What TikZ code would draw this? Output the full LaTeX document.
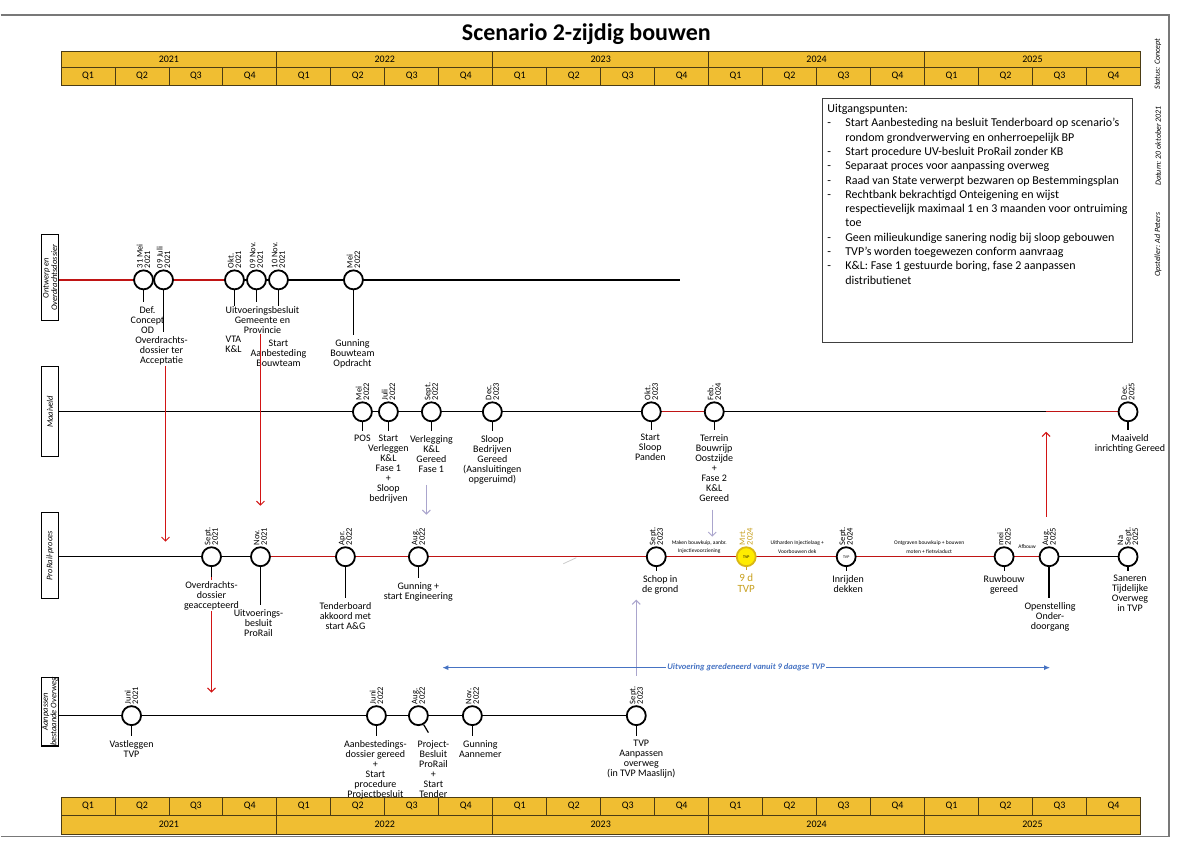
\documentclass[tikz,border=0pt]{standalone}
\usepackage{fontspec}
\setmainfont{Carlito}
\usetikzlibrary{positioning,arrows.meta,backgrounds}

\definecolor{barfill}{RGB}{240,190,50}
\definecolor{barline}{RGB}{75,60,20}
\definecolor{lanered}{RGB}{192,20,20}
\definecolor{arrowred}{RGB}{210,20,20}
\definecolor{lilac}{RGB}{170,165,205}
\definecolor{tvpblue}{RGB}{70,115,195}
\definecolor{tvpgold}{RGB}{200,160,30}
\definecolor{tvpyellow}{RGB}{255,236,0}
\definecolor{framegray}{RGB}{120,120,120}

\begin{document}
\begin{tikzpicture}[x=1pt,y=-1pt,
  bar/.style={draw=barline,fill=barfill,line width=0.8pt,inner sep=0pt,anchor=north west,font=\fontsize{10}{10}\selectfont},
  lanebox/.style={draw,line width=1.2pt,rotate=90,inner sep=0pt,minimum height=17pt,align=center,font=\itshape\fontsize{8.5}{8.5}\selectfont},
  ms/.style={circle,draw,line width=1.8pt,fill=white,minimum size=19pt,inner sep=0pt},
  tvp/.style={ms,font=\fontsize{4}{4}\selectfont},
  datum/.style={rotate=90,anchor=west,align=left,inner sep=1pt,font=\fontsize{8.5}{7.5}\selectfont},
  desc/.style={anchor=north,align=center,inner sep=1pt,font=\fontsize{10}{10}\selectfont},
  cover/.style={fill=white},
  phase/.style={align=center,inner sep=0pt,font=\fontsize{5.5}{8.5}\selectfont},
  lane/.style={line width=1.4pt},
  redlane/.style={draw=lanered,line width=1.4pt},
  stick/.style={line width=1.2pt,shorten >=3pt},
  redarrow/.style={draw=arrowred,line width=1pt,-{Straight Barb[length=4pt,width=8pt]}},
  lilarrow/.style={draw=lilac,line width=1pt,-{Straight Barb[length=4pt,width=8pt]}},
  sidetext/.style={rotate=90,font=\itshape\fontsize{8}{8}\selectfont}
]
\begin{scope}[on background layer]
\fill[white] (0,0) rectangle (1191,842);
\end{scope}
\draw[framegray,line width=1.2pt] (0,15) -- (1169,15) -- (1169,837) -- (0,837);

\node[font=\bfseries\fontsize{24}{24}\selectfont] (titel) at (586,34) {Scenario 2-zijdig bouwen};

\foreach \jaar [count=\i from 0] in {2021,...,2025} {
  \node[bar,minimum width=216pt,minimum height=16pt] (top\jaar) at ({60+216*\i},51) {\jaar};
  \node[bar,minimum width=216pt,minimum height=19pt] (bot\jaar) at ({60+216*\i},815) {\jaar};
  \foreach \q in {1,...,4} {
    \node[bar,minimum width=54pt,minimum height=18pt] (tq\jaar\q) at ({60+216*\i+54*(\q-1)},67) {Q\q};
    \node[bar,minimum width=54pt,minimum height=18pt] (bq\jaar\q) at ({60+216*\i+54*(\q-1)},797) {Q\q};
  }
}

\node[sidetext] (status) at (1158,64) {Status: Concept};
\node[sidetext] (datumtekst) at (1158,146) {Datum: 20 oktober 2021};
\node[sidetext] (opsteller) at (1158,245) {Opsteller: Ad Peters};

\node[draw=black!75,line width=0.8pt,anchor=north west,minimum width=310pt,minimum height=244pt,inner sep=0pt] (uitgbox) at (822,98) {};
\node[anchor=north west,inner sep=0pt,font=\fontsize{12}{14.3}\selectfont] (uitgtekst) at (827,102.5) {%
  \begin{tabular}{@{}p{18pt}@{}l@{}}
  \multicolumn{2}{@{}l@{}}{Uitgangspunten:}\\
  - & Start Aanbesteding na besluit Tenderboard op scenario’s\\
    & rondom grondverwerving en onherroepelijk BP\\
  - & Start procedure UV-besluit ProRail zonder KB\\
  - & Separaat proces voor aanpassing overweg\\
  - & Raad van State verwerpt bezwaren op Bestemmingsplan\\
  - & Rechtbank bekrachtigd Onteigening en wijst\\
    & respectievelijk maximaal 1 en 3 maanden voor ontruiming\\
    & toe\\
  - & Geen milieukundige sanering nodig bij sloop gebouwen\\
  - & TVP’s worden toegewezen conform aanvraag\\
  - & K\&L: Fase 1 gestuurde boring, fase 2 aanpassen\\
    & distributienet
  \end{tabular}};

\node[lanebox,minimum width=86pt] (lb1) at (49.5,278) {Ontwerp en\\Overdrachtsdossier};
\node[lanebox,minimum width=90pt] (lb2) at (49.5,412) {Maaiveld};
\node[lanebox,minimum width=86pt] (lb3) at (49.5,556) {ProRail-proces};
\node[lanebox,minimum width=68pt] (lb4) at (49.5,712) {Aanpassen\\bestaande Overweg};

% Ontwerp en Overdrachtsdossier
\node[ms] (m1a) at (143,280) {};
\node[ms] (m1b) at (163,280) {};
\node[ms] (m1c) at (234,280) {};
\node[ms] (m1d) at (256,280) {};
\node[ms] (m1e) at (278,280) {};
\node[ms] (m1f) at (353,280) {};
\coordinate (e1) at (680,280);
\node[datum] (t1a) at (m1a.north) {31 Mei\\2021};
\node[datum] (t1b) at (m1b.north) {09 Juli\\2021};
\node[datum] (t1c) at (m1c.north) {Okt.\\2021};
\node[datum] (t1d) at (m1d.north) {09 Nov.\\2021};
\node[datum] (t1e) at (m1e.north) {10 Nov.\\2021};
\node[datum] (t1f) at (m1f.north) {Mei\\2022};
\node[desc] (d1a) at (147,305.5) {Def.\\Concept\\OD};
\node[desc,cover] (d1b) at (161,335.5) {Overdrachts-\\dossier ter\\Acceptatie};
\node[desc] (d1c) at (233,335.5) {VTA\\K\&L};
\node[desc] (d1e) at (278,338.5) {Start\\Aanbesteding\\Bouwteam};
\node[desc,cover] (d1d) at (262,305.5) {Uitvoeringsbesluit\\Gemeente en\\Provincie};
\node[desc] (d1f) at (352,338.5) {Gunning\\Bouwteam\\Opdracht};

% Maaiveld
\node[ms] (m2a) at (362,412) {};
\node[ms] (m2b) at (388,412) {};
\node[ms] (m2c) at (431,412) {};
\node[ms] (m2d) at (492,412) {};
\node[ms] (m2e) at (651,412) {};
\node[ms] (m2f) at (714,412) {};
\node[ms] (m2g) at (1128,412) {};
\node[datum] (t2a) at (m2a.north) {Mei\\2022};
\node[datum] (t2b) at (m2b.north) {Juli\\2022};
\node[datum] (t2c) at (m2c.north) {Sept.\\2022};
\node[datum] (t2d) at (m2d.north) {Dec.\\2023};
\node[datum] (t2e) at (m2e.north) {Okt.\\2023};
\node[datum] (t2f) at (m2f.north) {Feb.\\2024};
\node[datum] (t2g) at (m2g.north) {Dec.\\2025};
\node[desc] (d2a) at (362,434.5) {POS};
\node[desc] (d2b) at (388,434.5) {Start\\Verleggen\\K\&L\\Fase 1\\+\\Sloop\\bedrijven};
\node[desc] (d2c) at (431,434.5) {Verlegging\\K\&L\\Gereed\\Fase 1};
\node[desc] (d2d) at (492,434.5) {Sloop\\Bedrijven\\Gereed\\(Aansluitingen\\opgeruimd)};
\node[desc] (d2e) at (650,433.5) {Start\\Sloop\\Panden};
\node[desc] (d2f) at (714,433.5) {Terrein\\Bouwrijp\\Oostzijde\\+\\Fase 2\\K\&L\\Gereed};
\node[desc] (d2g) at (1130,433.5) {Maaiveld\\inrichting Gereed};

% ProRail-proces
\node[ms] (m3a) at (211,557) {};
\node[ms] (m3b) at (260,557) {};
\node[ms] (m3c) at (345,557) {};
\node[ms] (m3d) at (418,557) {};
\node[ms] (m3e) at (656,557) {};
\node[tvp,fill=tvpyellow,draw=tvpgold!70!tvpyellow] (m3f) at (746,557) {TVP};
\node[tvp] (m3g) at (846,557) {TVP};
\node[ms] (m3h) at (1004,557) {};
\node[ms] (m3i) at (1049,557) {};
\node[ms] (m3j) at (1128,557) {};
\node[datum] (t3a) at (m3a.north) {Sept.\\2021};
\node[datum] (t3b) at (m3b.north) {Nov.\\2021};
\node[datum] (t3c) at (m3c.north) {Apr.\\2022};
\node[datum] (t3d) at (m3d.north) {Aug.\\2022};
\node[datum] (t3e) at (m3e.north) {Sept.\\2023};
\node[datum,text=tvpgold] (t3f) at (m3f.north) {Mrt.\\2024};
\node[datum] (t3g) at (m3g.north) {Sept.\\2024};
\node[datum] (t3h) at (m3h.north) {mei\\2025};
\node[datum] (t3i) at (m3i.north) {Aug.\\2025};
\node[datum] (t3j) at (m3j.north) {Na\\Sept.\\2025};
\node[desc,cover] (d3a) at (211,580.5) {Overdrachts-\\dossier\\geaccepteerd};
\node[desc] (d3b) at (258,608.5) {Uitvoerings-\\besluit\\ProRail};
\node[desc] (d3c) at (345,601.5) {Tenderboard\\akkoord met\\start A\&G};
\node[desc] (d3d) at (418,581.5) {Gunning +\\start Engineering};
\node[desc] (d3e) at (660,574.5) {Schop in\\de grond};
\node[desc,text=tvpgold,font=\fontsize{11}{11}\selectfont] (d3f) at (746,573) {9 d\\TVP};
\node[desc] (d3g) at (848,574.5) {Inrijden\\dekken};
\node[desc] (d3h) at (1004,574.5) {Ruwbouw\\gereed};
\node[desc] (d3i) at (1050,601.5) {Openstelling\\Onder-\\doorgang};
\node[desc] (d3j) at (1130,574.5) {Saneren\\Tijdelijke\\Overweg\\in TVP};
\node[phase] (p1) at (699,547.5) {Maken bouwkuip, aanbr.\\Injectievoorziening};
\node[phase] (p2) at (797,547.5) {Uitharden Injectielaag +\\Voorbouwen dek};
\node[phase] (p3) at (929,547.5) {Ontgraven bouwkuip + bouwen\\moten + fietsviaduct};
\node[phase] (p4) at (1027,547) {Afbouw};

% Aanpassen bestaande Overweg
\node[ms] (m4a) at (131,716) {};
\node[ms] (m4b) at (376,716) {};
\node[ms] (m4c) at (418,716) {};
\node[ms] (m4d) at (472,716) {};
\node[ms] (m4e) at (636,716) {};
\node[datum] (t4a) at (m4a.north) {Juni\\2021};
\node[datum] (t4b) at (m4b.north) {Juni\\2022};
\node[datum] (t4c) at (m4c.north) {Aug.\\2022};
\node[datum] (t4d) at (m4d.north) {Nov.\\2022};
\node[datum] (t4e) at (m4e.north) {Sept.\\2023};
\node[desc] (d4a) at (131,739.5) {Vastleggen\\TVP};
\node[desc] (d4b) at (375,739.5) {Aanbestedings-\\dossier gereed\\+\\Start\\procedure\\Projectbesluit};
\node[desc] (d4c) at (433,739.5) {Project-\\Besluit\\ProRail\\+\\Start\\Tender};
\node[desc] (d4d) at (480,739.5) {Gunning\\Aannemer};
\node[desc] (d4e) at (641,739.5) {TVP\\Aanpassen\\overweg\\(in TVP Maaslijn)};
\coordinate (k4c) at (428,733);

\coordinate (r1s) at (165,345);
\coordinate (r1e) at (165,542);
\coordinate (r2s) at (260,334);
\coordinate (r2e) at (260,506);
\coordinate (r3e) at (211,693);
\coordinate (r4s) at (1046,517);
\coordinate (r4e) at (1046,432);
\coordinate (l1s) at (426,485);
\coordinate (l1e) at (426,515);
\coordinate (l2s) at (712,510);
\coordinate (l2e) at (712,537);
\coordinate (l3s) at (636,676);
\coordinate (l3e) at (636,600);
\coordinate (ul) at (442,668);
\coordinate (ur) at (1050,668);

\begin{scope}[on background layer]
\draw[lane] (lb1.south |- m1a) -- (e1);
\draw[redlane] (lb1.south |- m1a) -- (m1c);
\draw[lane] (lb2.south |- m2a) -- (m2g);
\draw[redlane] (m2e) -- (m2f);
\draw[redlane] (r4e |- m2g) -- (m2g);
\draw[lane] (lb3.south |- m3a) -- (m3j);
\draw[redlane] (m3b) -- (m3i);
\draw[lane] (lb4.south |- m4a) -- (m4e);
\draw[black!20,line width=0.8pt] (563,564) -- (576,558);

\draw[redarrow] (r1s) -- (r1e);
\draw[redarrow] (m3a.center) -- (r3e);
\draw[redarrow] (r4s) -- (r4e);
\draw[lilarrow] (l1s) -- (l1e);
\draw[lilarrow] (l2s) -- (l2e);
\draw[lilarrow] (l3s) -- (l3e);
\draw[tvpblue,line width=1pt,{Latex[length=6pt,width=5pt]}-{Latex[length=6pt,width=5pt]}] (ul) -- (ur)
  node[midway,fill=white,inner sep=1pt,text=tvpblue,font=\bfseries\itshape\fontsize{8.5}{8.5}\selectfont] (tvpuitvoering) {Uitvoering geredeneerd vanuit 9 daagse TVP};

\draw[stick] (m1a) -- (m1a |- d1a.north);
\draw[stick] (m1b) -- (m1b |- d1b.north);
\draw[stick] (m1c) -- (m1c |- d1c.north);
\draw[stick] (m1d) -- (m1d |- d1d.north);
\draw[stick] (m1e) -- (m1e |- d1e.north);
\draw[stick] (m1f) -- (m1f |- d1f.north);
\draw[stick] (m2a) -- (m2a |- d2a.north);
\draw[stick] (m2b) -- (m2b |- d2b.north);
\draw[stick] (m2c) -- (m2c |- d2c.north);
\draw[stick] (m2d) -- (m2d |- d2d.north);
\draw[stick] (m2e) -- (m2e |- d2e.north);
\draw[stick] (m2f) -- (m2f |- d2f.north);
\draw[stick] (m2g) -- (m2g |- d2g.north);
\draw[stick] (m3a) -- (m3a |- d3a.north);
\draw[stick] (m3b) -- (m3b |- d3b.north);
\draw[stick] (m3c) -- (m3c |- d3c.north);
\draw[stick] (m3d) -- (m3d |- d3d.north);
\draw[stick] (m3e) -- (m3e |- d3e.north);
\draw[stick,tvpgold] (m3f) -- (m3f |- d3f.north);
\draw[stick] (m3g) -- (m3g |- d3g.north);
\draw[stick] (m3h) -- (m3h |- d3h.north);
\draw[stick] (m3i) -- (m3i |- d3i.north);
\draw[stick] (m3j) -- (m3j |- d3j.north);
\draw[stick] (m4a) -- (m4a |- d4a.north);
\draw[stick] (m4b) -- (m4b |- d4b.north);
\draw[line width=1.2pt] (m4c) -- (k4c);
\draw[stick] (m4d) -- (m4d |- d4d.north);
\draw[stick] (m4e) -- (m4e |- d4e.north);
\end{scope}

\draw[redarrow] (r2s) -- (r2e);
\end{tikzpicture}
\end{document}
